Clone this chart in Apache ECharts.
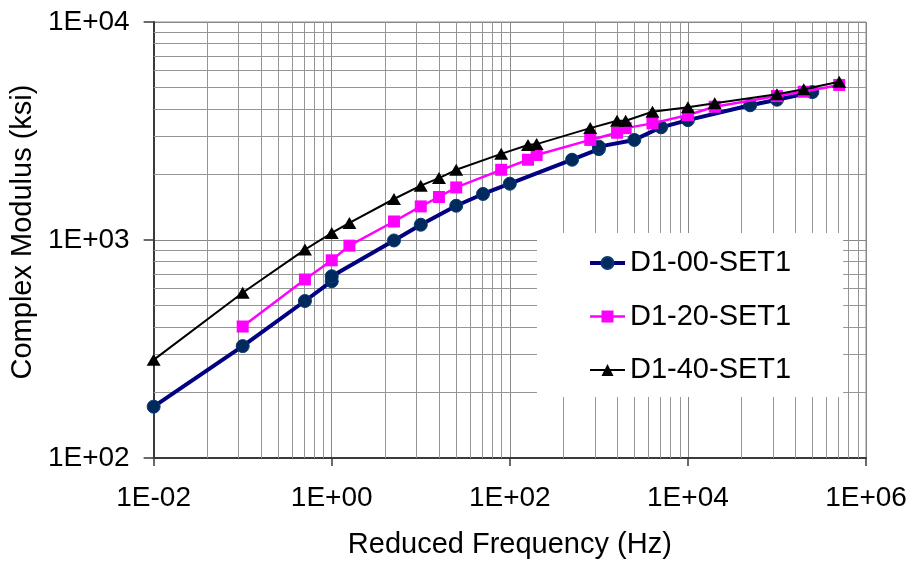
<!DOCTYPE html>
<html>
<head>
<meta charset="utf-8">
<script src="https://cdn.jsdelivr.net/npm/echarts@6/dist/echarts.min.js"></script>
<style>html,body{margin:0;padding:0;background:#fff}#c{width:914px;height:564px}</style>
</head>
<body>
<div id="c"></div>
<script>
// ---- data ----
const seriesNames = ['D1-00-SET1', 'D1-20-SET1', 'D1-40-SET1'];
const freq00 = [0.01, 0.1, 0.5, 1, 1, 5, 10, 25, 50, 100, 500, 1000, 1000, 2500, 5000, 10000, 50000, 100000, 250000];
const mod00  = [172, 326, 525, 647, 682, 995, 1175, 1436, 1626, 1812, 2335, 2612, 2681, 2878, 3288, 3548, 4150, 4400, 4770];
const freq20 = [0.1, 0.5, 1, 1.58, 5, 10, 16, 25, 80, 160, 200, 800, 1600, 2000, 4000, 10000, 20000, 100000, 200000, 500000];
const mod20  = [401, 659, 807, 942, 1216, 1426, 1575, 1742, 2099, 2335, 2455, 2878, 3105, 3260, 3428, 3743, 4085, 4573, 4786, 5143];
const freq40 = [0.01, 0.1, 0.5, 1, 1.58, 5, 10, 16, 25, 80, 160, 200, 800, 1600, 2000, 4000, 10000, 20000, 100000, 200000, 500000];
const mod40  = [282, 573, 904, 1077, 1197, 1542, 1775, 1923, 2099, 2484, 2729, 2754, 3260, 3525, 3525, 3873, 4064, 4238, 4667, 4913, 5319];
// axis ranges / tick labels
const xMin = 0.01, xMax = 1e6;
const yMin = 100, yMax = 10000;
// grid-line multipliers (decoration)
const yMinorMult = [2, 3, 4, 5, 6, 7, 8, 9];
const yDecades = [100, 1000];
const xMinorMult = [4, 9, 16, 25, 36, 49, 64, 81];
const xMajors = [0.01, 1, 100, 10000];

const FONT = "'Liberation Sans', Arial, sans-serif";
function sci(v) {
  const e = Math.round(Math.log10(v));
  const s = e < 0 ? '-' : '+';
  const a = Math.abs(e);
  return '1E' + s + (a < 10 ? '0' + a : '' + a);
}
function pairs(xs, ys) { return xs.map((x, i) => [x, ys[i]]); }

const gridLines = [];
yDecades.forEach(d => yMinorMult.forEach(m => gridLines.push({ yAxis: d * m })));
xMajors.forEach(d => xMinorMult.forEach(m => gridLines.push({ xAxis: d * m })));

const lineColors = ['#000080', '#ff00ff', '#000000'];
const lineWidths = [4, 2.5, 2];

const chart = echarts.init(document.getElementById('c'), null, { renderer: 'canvas' });
chart.setOption({
  animation: false,
  backgroundColor: '#ffffff',
  textStyle: { fontFamily: FONT },
  grid: { left: 152, right: 48, top: 22, bottom: 105, show: true, borderColor: '#8c8c8c', borderWidth: 1 },
  xAxis: {
    type: 'log', logBase: 100, min: xMin, max: xMax,
    name: 'Reduced Frequency (Hz)', nameLocation: 'middle', nameGap: 72,
    nameTextStyle: { fontSize: 29, color: '#000', fontFamily: FONT },
    axisLine: { show: true, lineStyle: { color: '#3a3a3a', width: 2 } },
    axisTick: { show: true, inside: false, length: 8, lineStyle: { color: '#3a3a3a', width: 1.5 } },
    axisLabel: { formatter: sci, fontSize: 28, color: '#000', margin: 26, fontFamily: FONT },
    splitLine: { show: true, lineStyle: { color: '#888888', width: 1 } },
    minorTick: { show: false }, minorSplitLine: { show: false }
  },
  yAxis: {
    type: 'log', logBase: 10, min: yMin, max: yMax,
    name: 'Complex Modulus (ksi)', nameLocation: 'middle', nameGap: 112,
    nameTextStyle: { fontSize: 29, color: '#000', fontFamily: FONT, padding: [0, 0, 0, 16] },
    axisLine: { show: true, lineStyle: { color: '#3a3a3a', width: 2 } },
    axisTick: { show: true, inside: false, length: 10, lineStyle: { color: '#3a3a3a', width: 1.5 } },
    axisLabel: { formatter: sci, fontSize: 28, color: '#000', margin: 24, fontFamily: FONT },
    splitLine: { show: true, lineStyle: { color: '#888888', width: 1 } }
  },
  legend: {
    z: 20,
    data: seriesNames.map((n, i) => ({ name: n, lineStyle: { width: lineWidths[i], color: lineColors[i] } })),
    orient: 'vertical', left: 537, top: 233,
    backgroundColor: '#ffffff',
    padding: [15, 52, 12, 51],
    itemWidth: 35, itemHeight: 15, itemGap: 23.5,
    textStyle: { fontSize: 29, color: '#000', fontFamily: FONT, lineHeight: 30 }
  },
  series: [
    {
      name: 'grid', type: 'line', data: [], z: 1, silent: true,
      markLine: {
        z: 1,
        silent: true, symbol: ['none', 'none'], animation: false,
        label: { show: false },
        lineStyle: { color: '#959595', width: 1, type: 'solid' },
        emphasis: { disabled: true },
        data: gridLines
      }
    },
    {
      name: seriesNames[0], type: 'line', data: pairs(freq00, mod00), z: 3,
      symbol: 'circle', symbolSize: 13,
      lineStyle: { color: lineColors[0], width: lineWidths[0] },
      itemStyle: { color: '#002a5e', borderColor: '#0a3a70', borderWidth: 1 }
    },
    {
      name: seriesNames[1], type: 'line', data: pairs(freq20, mod20), z: 4,
      symbol: 'rect', symbolSize: 12,
      lineStyle: { color: lineColors[1], width: lineWidths[1] },
      itemStyle: { color: '#ff00ff' }
    },
    {
      name: seriesNames[2], type: 'line', data: pairs(freq40, mod40), z: 5,
      symbol: 'triangle', symbolSize: [14, 12],
      lineStyle: { color: lineColors[2], width: lineWidths[2] },
      itemStyle: { color: '#000000' }
    }
  ]
});
</script>
</body>
</html>
